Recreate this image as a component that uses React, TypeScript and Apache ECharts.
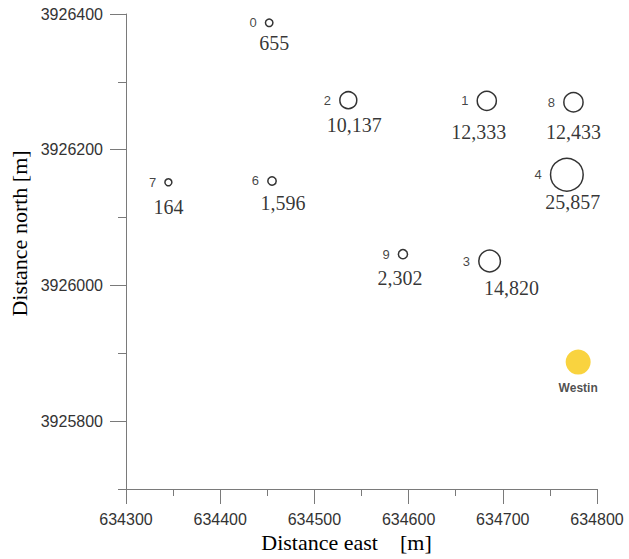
import React, { useEffect, useRef } from "react";
import * as echarts from "echarts";

// Site identifiers, positions (UTM metres) and counts
const siteIds = [0, 1, 2, 3, 4, 6, 7, 8, 9];
const eastM = [634452, 634683, 634536, 634686, 634768, 634455, 634345, 634775, 634594];
const northM = [3926387, 3926272, 3926273, 3926036, 3926163, 3926154, 3926152, 3926270, 3926046];
const counts = [655, 12333, 10137, 14820, 25857, 1596, 164, 12433, 2302];

// Reference hotel
const hotelNames = ["Westin"];
const hotelEast = [634780];
const hotelNorth = [3925887];

// Axis tick labels
const xTickValues = [634300, 634400, 634500, 634600, 634700, 634800];
const yTickLabelValues = [3925800, 3926000, 3926200, 3926400];

// Layout only: pixel nudges of the count labels relative to their circles
const countLabelNudge: number[][] = [
  [5, 20], [-8, 31], [6, 25], [22, 27], [6, 27], [11, 22], [0, 25], [0, 30], [-3, 24],
];

export default function App() {
  const ref = useRef<HTMLDivElement>(null);

  useEffect(() => {
    document.body.style.margin = "0";
    const chart = echarts.init(ref.current!, null, { renderer: "svg" });
    const serif = "'Liberation Serif', 'Times New Roman', serif";
    const sans = "'Liberation Sans', Arial, sans-serif";
    const axisColor = "#7a7a7a";
    const xMin = xTickValues[0];
    const xMax = xTickValues[xTickValues.length - 1];
    const yMin = 3925700;
    const yMax = yTickLabelValues[yTickLabelValues.length - 1];

    const sites = siteIds.map((id, i) => ({
      value: [eastM[i], northM[i], counts[i], id],
    }));
    const countLabels = siteIds.map((id, i) => ({
      value: [eastM[i], northM[i], counts[i], id],
      label: { offset: countLabelNudge[i] },
    }));
    const hotels = hotelNames.map((n, i) => ({ value: [hotelEast[i], hotelNorth[i]], name: n }));

    chart.setOption({
      animation: false,
      grid: { left: 126, right: 32, top: 14, bottom: 70 },
      xAxis: {
        type: "value",
        min: xMin,
        max: xMax,
        interval: 100,
        name: "Distance east    [m]",
        nameLocation: "middle",
        nameGap: 34,
        nameTextStyle: { fontFamily: serif, fontSize: 22, color: "#000", padding: [0, 30, 0, 0] },
        axisLine: { show: true, onZero: false, lineStyle: { color: axisColor, width: 1 } },
        axisTick: { show: true, length: 15, lineStyle: { color: axisColor } },
        minorTick: { show: true, splitNumber: 2, length: 7, lineStyle: { color: axisColor } },
        axisLabel: {
          fontFamily: sans,
          fontSize: 16,
          color: "#333",
          margin: 22,
          formatter: (v: number) => String(v),
        },
        splitLine: { show: false },
        minorSplitLine: { show: false },
      },
      yAxis: [
        {
          type: "value",
          min: yMin,
          max: yMax,
          interval: 100,
          position: "left",
          name: "Distance north [m]",
          nameLocation: "middle",
          nameGap: 96,
          nameTextStyle: { fontFamily: serif, fontSize: 22, color: "#000", padding: [0, 0, 0, 36] },
          axisLine: { show: true, onZero: false, lineStyle: { color: axisColor, width: 1 } },
          axisTick: { show: true, length: 8, lineStyle: { color: axisColor } },
          axisLabel: { show: false },
          splitLine: { show: false },
        },
        {
          type: "value",
          min: yMin,
          max: yMax,
          interval: 100,
          position: "left",
          axisLine: { show: false },
          axisTick: { show: true, length: 16, customValues: yTickLabelValues, lineStyle: { color: axisColor } },
          axisLabel: {
            customValues: yTickLabelValues,
            fontFamily: sans,
            fontSize: 16,
            color: "#333",
            margin: 23,
            formatter: (v: number) => String(v),
          },
          splitLine: { show: false },
        },
      ],
      series: [
        {
          type: "scatter",
          name: "sites",
          data: sites,
          symbol: "circle",
          symbolSize: (v: number[]) => 6.8 + v[2] / 1000,
          itemStyle: { color: "rgba(255,255,255,0)", borderColor: "#000", borderWidth: 1.5 },
          label: {
            show: true,
            position: "left",
            distance: 8,
            formatter: (p: any) => String(p.value[3]),
            fontFamily: sans,
            fontSize: 13,
            color: "#111",
          },
          z: 3,
        },
        {
          type: "scatter",
          name: "counts",
          data: countLabels,
          symbol: "circle",
          symbolSize: 1,
          itemStyle: { color: "rgba(0,0,0,0)" },
          label: {
            show: true,
            position: "inside",
            formatter: (p: any) => Number(p.value[2]).toLocaleString("en-US"),
            fontFamily: serif,
            fontSize: 20,
            color: "#000",
          },
          z: 4,
        },
        {
          type: "scatter",
          name: "hotel",
          data: hotels,
          symbol: "circle",
          symbolSize: 25,
          itemStyle: { color: "#F8C80F" },
          label: {
            show: true,
            position: "bottom",
            distance: 7,
            formatter: (p: any) => p.name,
            fontFamily: sans,
            fontSize: 12,
            fontWeight: "bold",
            color: "#222",
          },
        },
      ],
    });
    return () => chart.dispose();
  }, []);

  return <div ref={ref} style={{ width: 629, height: 559 }} />;
}
